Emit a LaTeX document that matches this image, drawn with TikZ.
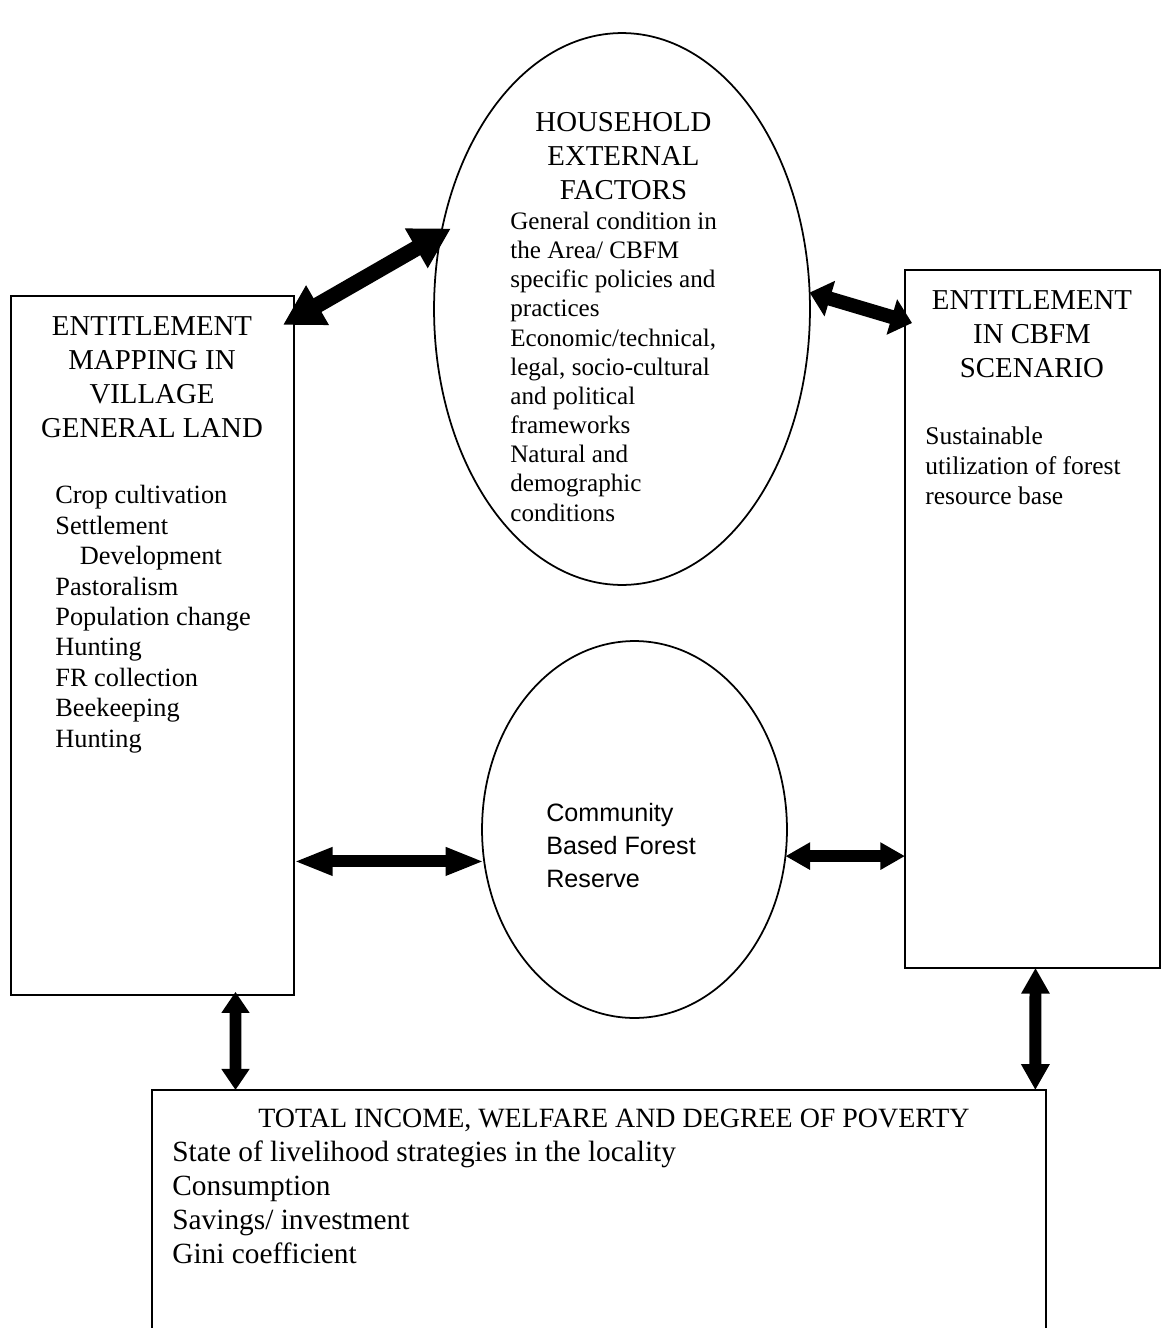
\documentclass[tikz,border=0pt]{standalone}
\usepackage{fontspec}
\setmainfont{Liberation Serif}
\newfontfamily\sansfam{Liberation Sans}
\usetikzlibrary{shapes.geometric,arrows.meta}
\newcommand\headfont{\fontsize{16.4}{19.3}\selectfont}
\tikzset{
  twoway/.style n args={3}{line width=#1,{Triangle[length=#2,width=#3]}-{Triangle[length=#2,width=#3]}}
}

\begin{document}
\begin{tikzpicture}[x=0.02cm,y=-0.02cm]
      \useasboundingbox (0,0) rectangle (1161,1328);
      \clip (0,0) rectangle (1161,1328);
      \begin{scope}[every node/.style={draw,line width=1pt,inner sep=0pt,outer sep=0pt}]
        \node[anchor=north west,minimum width=5.66cm,minimum height=13.98cm] (vgl) at (11,296) {};
        \node[anchor=north west,minimum width=5.10cm,minimum height=13.96cm] (cbfm) at (905,270) {};
        \node[anchor=north west,minimum width=17.88cm,minimum height=6cm] (inc) at (152,1090) {};
        \node[ellipse,minimum width=7.52cm,minimum height=11.04cm] (ext) at (622,309) {};
        \node[ellipse,minimum width=6.10cm,minimum height=7.54cm] (cbfr) at (634.5,829.5) {};
      \end{scope}
      \begin{scope}[every node/.style={inner sep=0pt,anchor=base west,align=left}]
        \node[anchor=base,align=center,font=\headfont] (vglh) at (152,437) {ENTITLEMENT\\MAPPING IN\\VILLAGE\\GENERAL LAND};
        \node[font=\fontsize{15}{17.3}\selectfont] (vglt) at (55,747) {Crop cultivation\\Settlement\\\hspace*{14pt}Development\\Pastoralism\\Population change\\Hunting\\FR collection\\Beekeeping\\Hunting};
        \node[anchor=base,align=center,font=\headfont] (exth) at (623.5,199) {HOUSEHOLD\\EXTERNAL\\FACTORS};
        \node[font=\fontsize{14.3}{16.6}\selectfont] (extt) at (510,521) {General condition in\\the Area/ CBFM\\specific policies and\\practices\\Economic/technical,\\legal, socio-cultural\\and political\\frameworks\\Natural and\\demographic\\conditions};
        \node[anchor=base,align=center,font=\headfont] (cbfmh) at (1032,377) {ENTITLEMENT\\IN CBFM\\SCENARIO};
        \node[font=\fontsize{14.5}{17}\selectfont] (cbfmt) at (925,504) {Sustainable\\utilization of forest\\resource base};
        \node[font=\sansfam\fontsize{14.3}{18.7}\selectfont] (cbfrt) at (546,887) {Community\\Based Forest\\Reserve};
        \node[anchor=base,align=center,font=\fontsize{15.9}{19.3}\selectfont] (inch) at (614,1127) {TOTAL INCOME, WELFARE AND DEGREE OF POVERTY};
        \node[font=\fontsize{16.7}{19.3}\selectfont] (inct) at (172,1263) {State of livelihood strategies in the locality\\Consumption\\Savings/ investment\\Gini coefficient};
      \end{scope}
      \draw[twoway={9pt}{22.7pt}{24.4pt}] ([shift={(-11,29)}]vgl.north east) -- ([shift={(8,3)}]ext.155);
      \draw[twoway={8pt}{12pt}{20.4pt}] (ext.5) -- ([shift={(7,53)}]cbfm.north west);
      \draw[twoway={6.8pt}{22pt}{14.7pt}] (vgl.east |- cbfr.192) -- (cbfr.192);
      \draw[twoway={6.8pt}{14pt}{14.7pt}] (cbfr.350) -- (cbfr.350 -| cbfm.west);
      \draw[twoway={6.8pt}{12pt}{15.3pt}] ([shift={(83,-3)}]vgl.south) -- ([shift={(83.5,0)}]inc.north west);
      \draw[twoway={6.8pt}{14.7pt}{15.3pt}] ([shift={(130.5,0)}]cbfm.south west) -- ([shift={(-10.5,0)}]inc.north east);
\end{tikzpicture}
\end{document}
